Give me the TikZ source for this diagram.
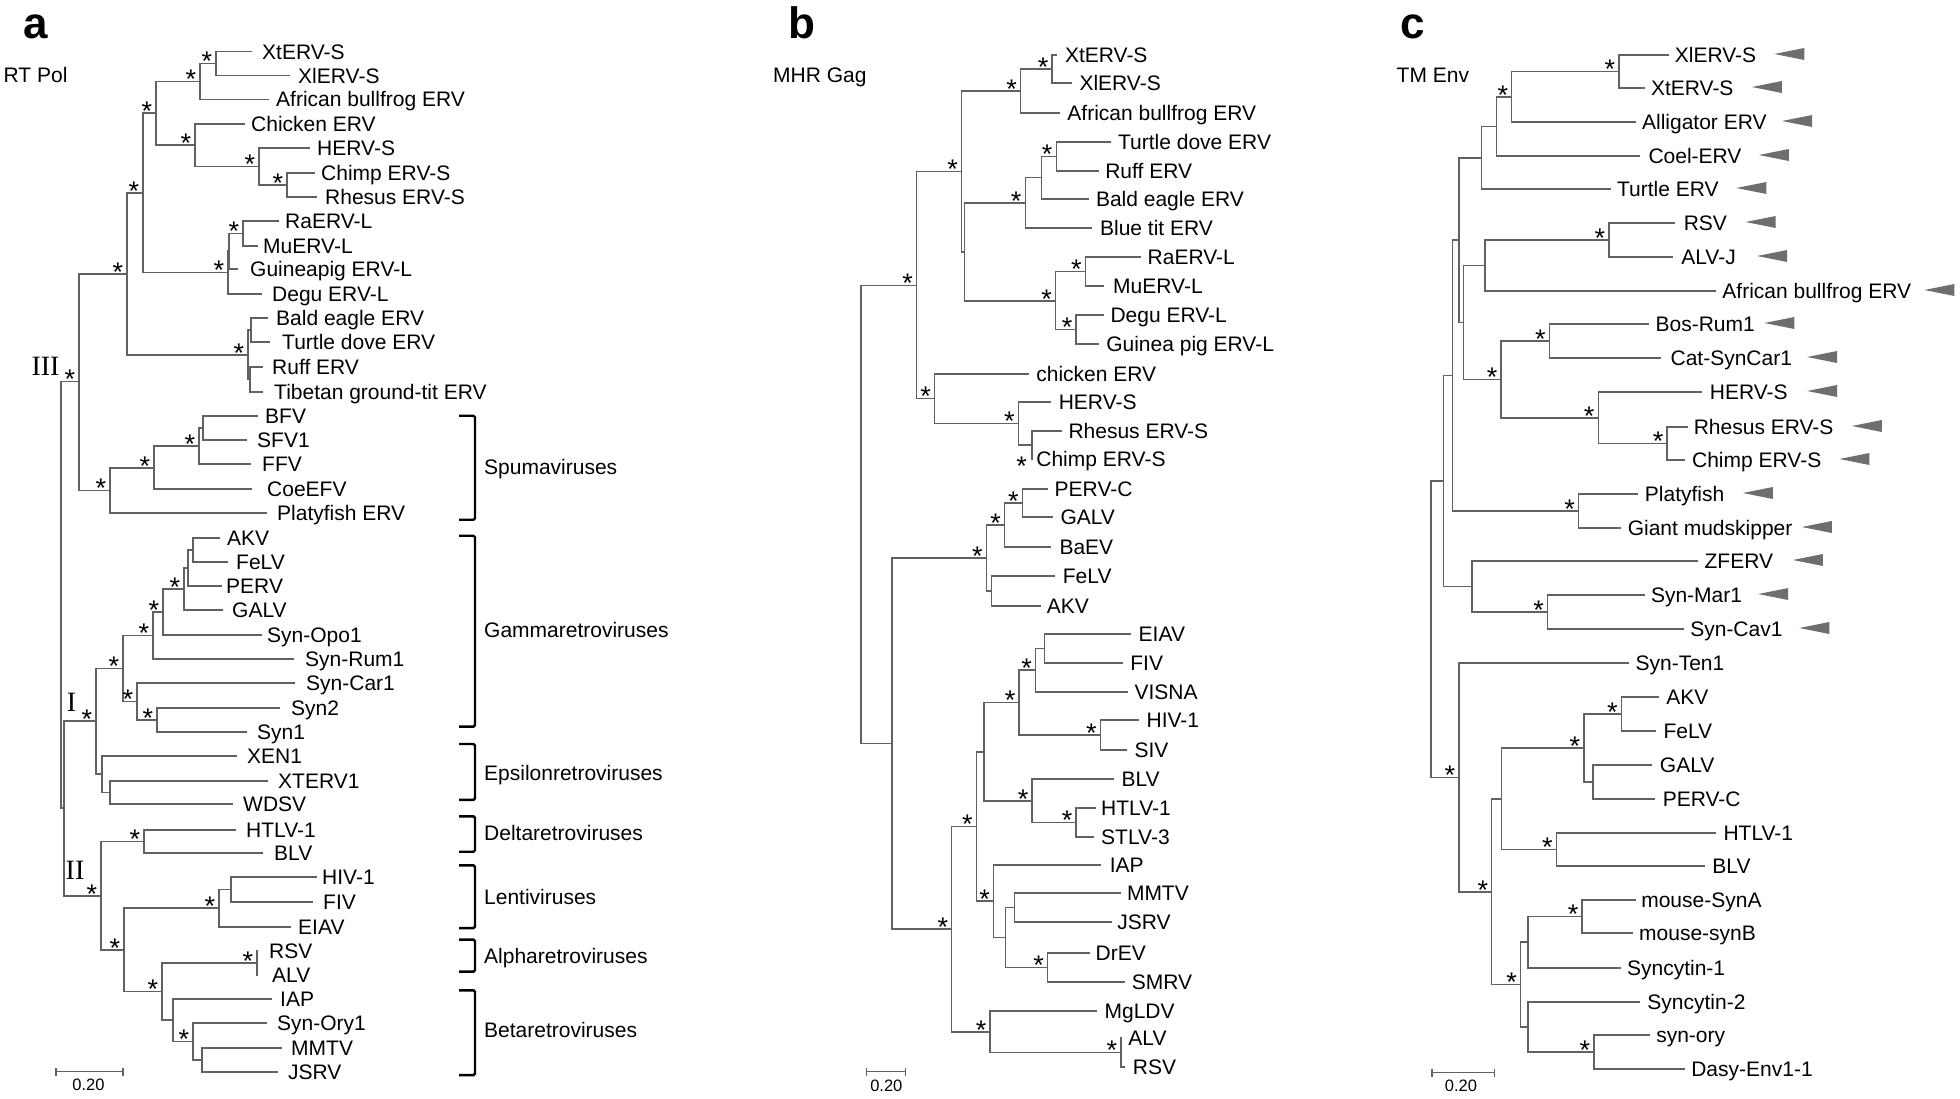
\documentclass[tikz,border=0pt]{standalone}
\usepackage{fontspec}
\setmainfont{Liberation Sans}
\newfontfamily\romfont{Liberation Serif}
\newcommand{\lf}[5]{\pgfmathsetmacro\lfgap{#3-#2-1}\node[leaf,inner xsep=\lfgap pt] (#1) at (#2,#4) {#5};}
\newcommand{\nd}[3]{\coordinate (#1) at (#2,#3);}
\newcommand{\kid}[2]{\foreach \k in {#2}{\draw[br] (#1) |- (\k);}}
\newcommand{\bsp}[1]{\foreach \k in {#1}{\node[astr] (s\k) at ([shift={(-9,-8)}]\k) {*};}}
\newcommand{\tri}[2]{\fill[tri] (#1,#2) -- ++(30,-6) -- ++(0,12) -- cycle;}
\newcommand{\brk}[5]{\draw[brkt] (459,#1) -- (475,#1) -- (475,#2) -- (459,#2);\node[grp] (#4) at (484,#3) {#5};}
\begin{document}
\begin{tikzpicture}[x=1pt,y=-1pt,
 br/.style={draw=black!62,line width=1.3pt},
 leaf/.style={anchor=west,inner ysep=0pt,text height=19pt,text depth=4pt,font=\fontsize{21}{25}\selectfont},
 astr/.style={inner sep=0pt,text height=30.2pt,text depth=0pt,font=\fontsize{27}{27}\selectfont},
 rom/.style={inner sep=0pt,text height=18.5pt,text depth=0pt,font=\romfont\fontsize{28}{28}\selectfont},
 grp/.style={anchor=west,inner sep=0pt,text height=15pt,text depth=0pt,font=\fontsize{21}{25}\selectfont},
 brkt/.style={draw=black,line width=2.4pt,rounded corners=1.5pt},
 tri/.style={fill=black!57},
 ttl/.style={anchor=base west,inner sep=0pt,font=\fontsize{21}{25}\selectfont},
 plet/.style={anchor=base west,inner sep=0pt,font=\bfseries\fontsize{44}{44}\selectfont},
 sc/.style={inner sep=0pt,text height=11.8pt,text depth=0pt,font=\fontsize{16.5}{18}\selectfont}]
\useasboundingbox (0,0) rectangle (1960,1098);

% ================= panel a =================
\node[plet] (la) at (23,38) {a};
\node[ttl] (ta) at (3.5,82) {RT Pol};
\lf{aXt}{252}{263}{51.7}{XtERV-S}
\lf{aXl}{290}{299}{75.7}{XlERV-S}
\lf{aFrog}{269}{277}{99.3}{African bullfrog ERV}
\lf{aChk}{245}{252}{124}{Chicken ERV}
\lf{aHERV}{310}{318}{148}{HERV-S}
\lf{aChimp}{315}{322}{173}{Chimp ERV-S}
\lf{aRhe}{317}{326}{197}{Rhesus ERV-S}
\lf{aRa}{279}{286}{221}{RaERV-L}
\lf{aMu}{258}{264}{246}{MuERV-L}
\lf{aGp}{238}{251}{269}{Guineapig ERV-L}
\lf{aDegu}{262}{273}{294}{Degu ERV-L}
\lf{aBald}{268}{277}{318}{Bald eagle ERV}
\lf{aTurt}{270}{283}{342}{Turtle dove ERV}
\lf{aRuff}{263}{273}{367}{Ruff ERV}
\lf{aTib}{263}{275}{392}{Tibetan ground-tit ERV}
\lf{aBFV}{258}{266}{416}{BFV}
\lf{aSFV}{247}{258}{440}{SFV1}
\lf{aFFV}{251}{263}{464}{FFV}
\lf{aCoe}{252}{268}{489}{CoeEFV}
\lf{aPlaty}{267}{278}{513}{Platyfish ERV}
\lf{aAKV}{220}{228}{538}{AKV}
\lf{aFeLV}{228}{237}{562}{FeLV}
\lf{aPERV}{222}{227}{586}{PERV}
\lf{aGALV}{223}{233}{610}{GALV}
\lf{aOpo}{262}{268}{635}{Syn-Opo1}
\lf{aRum}{294}{306}{659}{Syn-Rum1}
\lf{aCar}{295}{307}{683}{Syn-Car1}
\lf{aSyn2}{280}{292}{708}{Syn2}
\lf{aSyn1}{247}{258}{732}{Syn1}
\lf{aXEN}{237}{248}{756}{XEN1}
\lf{aXTERV}{268}{279}{781}{XTERV1}
\lf{aWDSV}{233}{244}{804}{WDSV}
\lf{aHTLV}{236}{247}{830}{HTLV-1}
\lf{aBLV}{263}{275}{853}{BLV}
\lf{aHIV}{317}{323}{877}{HIV-1}
\lf{aFIV}{313}{324}{902}{FIV}
\lf{aEIAV}{291}{299}{927}{EIAV}
\lf{aRSV}{258}{270}{951}{RSV}
\lf{aALV}{258}{273}{975}{ALV}
\lf{aIAP}{272}{281}{999}{IAP}
\lf{aOry}{267}{278}{1023}{Syn-Ory1}
\lf{aMMTV}{282}{292}{1048}{MMTV}
\lf{aJSRV}{278}{289}{1072}{JSRV}

\nd{aN1}{216}{63.7}   \kid{aN1}{aXt.west,aXl.west}
\nd{aN2}{200}{81.5}   \kid{aN2}{aN1,aFrog.west}
\nd{aH1}{287}{185}    \kid{aH1}{aChimp.west,aRhe.west}
\nd{aH2}{259}{166.5}  \kid{aH2}{aHERV.west,aH1}
\nd{aC1}{195}{145}    \kid{aC1}{aChk.west,aH2}
\nd{aN3}{156}{113}    \kid{aN3}{aN2,aC1}
\nd{aE1}{243}{233.5}  \kid{aE1}{aRa.west,aMu.west}
\nd{aE2}{229}{251}    \kid{aE2}{aE1,aGp.west}
\nd{aE3}{228}{272.5}  \kid{aE3}{aE2,aDegu.west}
\nd{aN4}{143}{193}    \kid{aN4}{aN3,aE3}
\nd{aB1}{251}{330}    \kid{aB1}{aBald.west,aTurt.west}
\nd{aBt}{250}{379.5}  \kid{aBt}{aRuff.west,aTib.west}
\nd{aBr}{248}{355}    \kid{aBr}{aB1,aBt}
\nd{aN5}{127}{274}    \kid{aN5}{aN4,aBr}
\nd{aS4}{203}{428}    \kid{aS4}{aBFV.west,aSFV.west}
\nd{aS3}{199}{446}    \kid{aS3}{aS4,aFFV.west}
\nd{aS2}{154}{468}    \kid{aS2}{aS3,aCoe.west}
\nd{aS1}{110}{490.5}  \kid{aS1}{aS2,aPlaty.west}
\nd{aIII}{79}{381.5}  \kid{aIII}{aN5,aS1}
\nd{aG1}{193}{550}    \kid{aG1}{aAKV.west,aFeLV.west}
\nd{aG2}{188}{568}    \kid{aG2}{aG1,aPERV.west}
\nd{aG3}{184}{589}    \kid{aG3}{aG2,aGALV.west}
\nd{aG4}{163}{612}    \kid{aG4}{aG3,aOpo.west}
\nd{aG5}{153}{635.5}  \kid{aG5}{aG4,aRum.west}
\nd{aG6}{157}{720}    \kid{aG6}{aSyn2.west,aSyn1.west}
\nd{aG7}{137}{701.5}  \kid{aG7}{aCar.west,aG6}
\nd{aG8}{123}{668.5}  \kid{aG8}{aG5,aG7}
\nd{aEp1}{110}{792.5} \kid{aEp1}{aXTERV.west,aWDSV.west}
\nd{aEp0}{102}{774}   \kid{aEp0}{aXEN.west,aEp1}
\nd{aNI}{96}{721}     \kid{aNI}{aG8,aEp0}
\nd{aD}{144}{841.5}   \kid{aD}{aHTLV.west,aBLV.west}
\nd{aHF}{231}{889.5}  \kid{aHF}{aHIV.west,aFIV.west}
\nd{aL}{219}{908}     \kid{aL}{aHF,aEIAV.west}
\nd{aA}{257}{963}     \kid{aA}{aRSV.west,aALV.west}
\nd{aBe3}{202}{1060}  \kid{aBe3}{aMMTV.west,aJSRV.west}
\nd{aBe2}{193}{1041.5}\kid{aBe2}{aOry.west,aBe3}
\nd{aBe1}{173}{1020}  \kid{aBe1}{aIAP.west,aBe2}
\nd{aAB}{162}{991.5}  \kid{aAB}{aA,aBe1}
\nd{aL0}{124}{950}    \kid{aL0}{aL,aAB}
\nd{aNII}{101}{896}   \kid{aNII}{aD,aL0}
\nd{aI2}{64}{808}     \kid{aI2}{aNI,aNII}
\nd{aRoot}{61}{594}   \kid{aRoot}{aIII,aI2}

\bsp{aN1,aN2,aN3,aC1,aH2,aH1,aN4,aE1,aE3,aN5,aBr,aIII,aS3,aS2,aS1,aG3,aG4,aG5,aG8,aG7,aG6,aNI,aD,aNII,aL0,aL,aAB,aA,aBe2}

\node[rom] (rIII) at (45.5,366.5) {III};
\node[rom] (rI) at (71.5,702) {I};
\node[rom] (rII) at (75,870) {II};

\brk{415.7}{519.7}{467}{gSpu}{Spumaviruses}
\brk{535.7}{726.6}{629.6}{gGam}{Gammaretroviruses}
\brk{744}{799.9}{772.9}{gEps}{Epsilonretroviruses}
\brk{816.4}{851.7}{833.3}{gDel}{Deltaretroviruses}
\brk{865.4}{928.1}{897.4}{gLen}{Lentiviruses}
\brk{939.6}{971.6}{955.6}{gAlp}{Alpharetroviruses}
\brk{990.4}{1075.1}{1030.2}{gBet}{Betaretroviruses}

\coordinate (saL) at (56,1071.7); \coordinate (saR) at (123,1071.7);
\draw[br] (saL) -- (saR);
\draw[br] ([yshift=4pt]saL) -- ([yshift=-4pt]saL);
\draw[br] ([yshift=4pt]saR) -- ([yshift=-4pt]saR);
\node[sc] (sa) at (88.5,1084.5) {0.20};

% ================= panel b =================
\node[plet] (lb) at (788,38) {b};
\node[ttl] (tb) at (773,82) {MHR Gag};
\lf{bXt}{1056.9}{1065.8}{55}{XtERV-S}
\lf{bXl}{1071.7}{1080.3}{83}{XlERV-S}
\lf{bFrog}{1059.6}{1068.2}{113}{African bullfrog ERV}
\lf{bTurt}{1111.3}{1118.9}{142}{Turtle dove ERV}
\lf{bRuff}{1098.5}{1106.1}{171}{Ruff ERV}
\lf{bBald}{1088.9}{1096.8}{199}{Bald eagle ERV}
\lf{bBlue}{1092.3}{1100.9}{228}{Blue tit ERV}
\lf{bRa}{1140.6}{1148.5}{257}{RaERV-L}
\lf{bMu}{1104.4}{1114.0}{286}{MuERV-L}
\lf{bDegu}{1104.4}{1111.3}{315}{Degu ERV-L}
\lf{bGp}{1099.2}{1107.1}{344}{Guinea pig ERV-L}
\lf{bChk}{1028.6}{1037.2}{374}{chicken ERV}
\lf{bHERV}{1051.0}{1059.6}{402}{HERV-S}
\lf{bRhe}{1062.4}{1069.3}{431}{Rhesus ERV-S}
\lf{bChimp}{1033.0}{1037.2}{459}{Chimp ERV-S}
\lf{bPERV}{1047.6}{1055.5}{489}{PERV-C}
\lf{bGALV}{1052.7}{1061.3}{517}{GALV}
\lf{bBaEV}{1051.0}{1060.3}{547}{BaEV}
\lf{bFeLV}{1054.5}{1063.7}{576}{FeLV}
\lf{bAKV}{1040.7}{1047.6}{606}{AKV}
\lf{bEIAV}{1131.2}{1139.5}{634}{EIAV}
\lf{bFIV}{1123.3}{1131.2}{663}{FIV}
\lf{bVIS}{1127.8}{1135.4}{692}{VISNA}
\lf{bHIV}{1138.8}{1147.4}{720}{HIV-1}
\lf{bSIV}{1126.8}{1135.4}{750}{SIV}
\lf{bBLV}{1114.0}{1122.3}{779}{BLV}
\lf{bHTLV}{1095.8}{1102.0}{808}{HTLV-1}
\lf{bSTLV}{1094.1}{1102.0}{837}{STLV-3}
\lf{bIAP}{1100.9}{1110.6}{865}{IAP}
\lf{bMMTV}{1120.9}{1127.8}{893}{MMTV}
\lf{bJSRV}{1112.3}{1118.2}{922}{JSRV}
\lf{bDrEV}{1089.9}{1096.5}{953}{DrEV}
\lf{bSMRV}{1125.1}{1132.6}{982}{SMRV}
\lf{bMg}{1096.8}{1105.4}{1011}{MgLDV}
\lf{bALV}{1121.5}{1129.2}{1038}{ALV}
\lf{bRSV}{1125.1}{1133.7}{1067}{RSV}

\nd{bX}{1052}{69}        \kid{bX}{bXt.west,bXl.west}
\nd{bX2}{1020.7}{91}     \kid{bX2}{bX,bFrog.west}
\nd{bT1}{1056.2}{156.5}  \kid{bT1}{bTurt.west,bRuff.west}
\nd{bT2}{1041.7}{177.5}  \kid{bT2}{bT1,bBald.west}
\nd{bT3}{1025.2}{203}    \kid{bT3}{bT2,bBlue.west}
\nd{bR1}{1085.4}{271.5}  \kid{bR1}{bRa.west,bMu.west}
\nd{bR2}{1076.1}{329.5}  \kid{bR2}{bDegu.west,bGp.west}
\nd{bR3}{1055.5}{301}    \kid{bR3}{bR1,bR2}
\nd{bBR}{964.2}{252}     \kid{bBR}{bT3,bR3}
\nd{bA2}{961.5}{171.5}   \kid{bA2}{bX2,bBR}
\nd{bH1}{1032.1}{445}    \kid{bH1}{bRhe.west,bChimp.west}
\nd{bH2}{1018.3}{423.5}  \kid{bH2}{bHERV.west,bH1}
\nd{bC1}{934.6}{398.5}   \kid{bC1}{bChk.west,bH2}
\nd{bA3}{916.7}{285.5}   \kid{bA3}{bA2,bC1}
\nd{bP1}{1022.4}{503}    \kid{bP1}{bPERV.west,bGALV.west}
\nd{bP2}{1004.5}{525}    \kid{bP2}{bP1,bBaEV.west}
\nd{bF1}{991.8}{591}     \kid{bF1}{bFeLV.west,bAKV.west}
\nd{bP3}{986.3}{558}     \kid{bP3}{bP2,bF1}
\nd{bL1}{1044.8}{648.5}  \kid{bL1}{bEIAV.west,bFIV.west}
\nd{bL2}{1035.5}{670}    \kid{bL2}{bL1,bVIS.west}
\nd{bHI}{1100.3}{735}    \kid{bHI}{bHIV.west,bSIV.west}
\nd{bL3}{1019}{702.5}    \kid{bL3}{bL2,bHI}
\nd{bHT}{1076.1}{822.5}  \kid{bHT}{bHTLV.west,bSTLV.west}
\nd{bD1}{1032.1}{801}    \kid{bD1}{bBLV.west,bHT}
\nd{bLD}{983.9}{752}     \kid{bLD}{bL3,bD1}
\nd{bMJ}{1014.2}{907.5}  \kid{bMJ}{bMMTV.west,bJSRV.west}
\nd{bDS}{1047.6}{967.5}  \kid{bDS}{bDrEV.west,bSMRV.west}
\nd{bMD}{1005.2}{937.5}  \kid{bMD}{bMJ,bDS}
\nd{bBI}{993.5}{901}     \kid{bBI}{bIAP.west,bMD}
\nd{bLB}{976.3}{826.5}   \kid{bLB}{bLD,bBI}
\nd{bAR}{1120.9}{1052.5} \kid{bAR}{bALV.west,bRSV.west}
\nd{bMA}{990.1}{1032}    \kid{bMA}{bMg.west,bAR}
\nd{bRB}{951.8}{929}     \kid{bRB}{bLB,bMA}
\nd{bG}{891.9}{743.5}    \kid{bG}{bP3,bRB}
\nd{bRoot}{860.9}{514.5} \kid{bRoot}{bA3,bG}

\bsp{bX,bX2,bT1,bT3,bR1,bR2,bR3,bA2,bA3,bC1,bH2,bP1,bP2,bP3,bL2,bHI,bL3,bHT,bD1,bDS,bBI,bLB,bAR,bMA,bRB}
\node[astr] (sbH1) at (1021.7,460) {*};

\coordinate (sbL) at (866.8,1071.7); \coordinate (sbR) at (905.7,1071.7);
\draw[br] (sbL) -- (sbR);
\draw[br] ([yshift=4pt]sbL) -- ([yshift=-4pt]sbL);
\draw[br] ([yshift=4pt]sbR) -- ([yshift=-4pt]sbR);
\node[sc] (sb) at (886.3,1085.5) {0.20};

% ================= panel c =================
\node[plet] (lc) at (1400,38) {c};
\node[ttl] (tc) at (1396.5,82) {TM Env};
\lf{cXl}{1668.6}{1675.7}{55}{XlERV-S}
\lf{cXt}{1644.6}{1651.8}{88}{XtERV-S}
\lf{cAll}{1635.7}{1642.9}{122}{Alligator ERV}
\lf{cCoel}{1640}{1649.3}{156}{Coel-ERV}
\lf{cTurt}{1610.7}{1617.9}{189}{Turtle ERV}
\lf{cRSV}{1675}{1684.6}{223}{RSV}
\lf{cALVJ}{1673.2}{1682.1}{257}{ALV-J}
\lf{cFrog}{1716.1}{1723.2}{291}{African bullfrog ERV}
\lf{cBos}{1648.9}{1656.4}{324}{Bos-Rum1}
\lf{cCat}{1660.7}{1671.4}{358}{Cat-SynCar1}
\lf{cHERV}{1701.8}{1710.7}{392}{HERV-S}
\lf{cRhe}{1687.5}{1694.6}{427}{Rhesus ERV-S}
\lf{cChimp}{1684.6}{1692.9}{460}{Chimp ERV-S}
\lf{cPlaty}{1637.5}{1645.7}{494}{Platyfish}
\lf{cGiant}{1620.7}{1628.6}{528}{Giant mudskipper}
\lf{cZF}{1698.2}{1705.4}{561}{ZFERV}
\lf{cMar}{1644.6}{1651.8}{595}{Syn-Mar1}
\lf{cCav}{1683.9}{1691.1}{629}{Syn-Cav1}
\lf{cTen}{1628.6}{1636.4}{663}{Syn-Ten1}
\lf{cAKV}{1658.9}{1667.1}{697}{AKV}
\lf{cFeLV}{1656.4}{1664.3}{731}{FeLV}
\lf{cGALV}{1651.8}{1660.7}{765}{GALV}
\lf{cPERV}{1655.4}{1663.6}{799}{PERV-C}
\lf{cHTLV}{1716.1}{1724.3}{833}{HTLV-1}
\lf{cBLV}{1705.4}{1713.2}{866}{BLV}
\lf{cMSA}{1635.7}{1642.1}{900}{mouse-SynA}
\lf{cMSB}{1632.9}{1640}{933}{mouse-synB}
\lf{cSy1}{1621.4}{1627.9}{968}{Syncytin-1}
\lf{cSy2}{1640}{1648.2}{1002}{Syncytin-2}
\lf{cOry}{1650}{1657.1}{1035}{syn-ory}
\lf{cDasy}{1685}{1692.1}{1069}{Dasy-Env1-1}

\nd{cX1}{1618.9}{71.5}   \kid{cX1}{cXl.west,cXt.west}
\nd{cX2}{1511.8}{97}     \kid{cX2}{cX1,cAll.west}
\nd{cX3}{1496.4}{126.5}  \kid{cX3}{cX2,cCoel.west}
\nd{cX4}{1481.4}{158}    \kid{cX4}{cX3,cTurt.west}
\nd{cRA}{1608.9}{240}    \kid{cRA}{cRSV.west,cALVJ.west}
\nd{cRAf}{1485}{265.5}   \kid{cRAf}{cRA,cFrog.west}
\nd{cBC}{1549.3}{341}    \kid{cBC}{cBos.west,cCat.west}
\nd{cRC}{1667.1}{443.5}  \kid{cRC}{cRhe.west,cChimp.west}
\nd{cHR}{1598.2}{418}    \kid{cHR}{cHERV.west,cRC}
\nd{cBH}{1501.1}{379.5}  \kid{cBH}{cBC,cHR}
\nd{cRB}{1463.2}{322.5}  \kid{cRB}{cRAf,cBH}
\nd{cN5}{1458.9}{240}    \kid{cN5}{cX4,cRB}
\nd{cPG}{1578.6}{511}    \kid{cPG}{cPlaty.west,cGiant.west}
\nd{cN6}{1452.5}{375.5}  \kid{cN6}{cN5,cPG}
\nd{cMC}{1547.5}{612}    \kid{cMC}{cMar.west,cCav.west}
\nd{cZM}{1472.1}{586.5}  \kid{cZM}{cZF.west,cMC}
\nd{cN7}{1443.6}{481}    \kid{cN7}{cN6,cZM}
\nd{cAF}{1621.4}{714}    \kid{cAF}{cAKV.west,cFeLV.west}
\nd{cGP}{1592.9}{782}    \kid{cGP}{cGALV.west,cPERV.west}
\nd{cAG}{1583.9}{748}    \kid{cAG}{cAF,cGP}
\nd{cHB}{1556.4}{849.5}  \kid{cHB}{cHTLV.west,cBLV.west}
\nd{cAH}{1501.8}{799}    \kid{cAH}{cAG,cHB}
\nd{cMS}{1582.1}{916.5}  \kid{cMS}{cMSA.west,cMSB.west}
\nd{cSa}{1527.9}{942}    \kid{cSa}{cMS,cSy1.west}
\nd{cSD}{1593.9}{1052}   \kid{cSD}{cOry.west,cDasy.west}
\nd{cSb}{1527.9}{1027}   \kid{cSb}{cSy2.west,cSD}
\nd{cSS}{1520.7}{984.5}  \kid{cSS}{cSa,cSb}
\nd{cAS}{1491.8}{892}    \kid{cAS}{cAH,cSS}
\nd{cT0}{1458.9}{777.5}  \kid{cT0}{cTen.west,cAS}
\nd{cRoot}{1431.1}{629}  \kid{cRoot}{cN7,cT0}

\bsp{cX1,cX2,cRA,cBC,cHR,cRC,cBH,cPG,cMC,cT0,cAF,cAG,cHB,cMS,cAS,cSS,cSD}

\tri{1774.3}{54}
\tri{1751.8}{87}
\tri{1782.1}{121}
\tri{1758.9}{155}
\tri{1736.4}{188}
\tri{1745.7}{222}
\tri{1757.1}{256}
\tri{1924.3}{290}
\tri{1764.3}{323}
\tri{1807.1}{357}
\tri{1807.1}{391}
\tri{1851.8}{426}
\tri{1839.3}{459}
\tri{1742.9}{493}
\tri{1801.8}{527}
\tri{1792.9}{560}
\tri{1758.2}{594}
\tri{1799.3}{628}

\coordinate (scL) at (1432.1,1072.7); \coordinate (scR) at (1494.6,1072.7);
\draw[br] (scL) -- (scR);
\draw[br] ([yshift=4pt]scL) -- ([yshift=-4pt]scL);
\draw[br] ([yshift=4pt]scR) -- ([yshift=-4pt]scR);
\node[sc] (scx) at (1461,1085.5) {0.20};
\end{tikzpicture}
\end{document}
